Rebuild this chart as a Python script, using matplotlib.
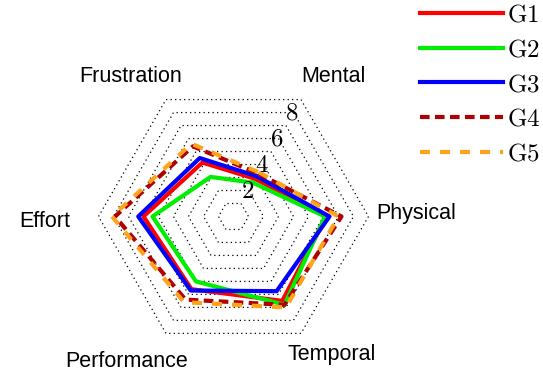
import numpy as np
import matplotlib.pyplot as plt

plt.rcParams["mathtext.fontset"] = "cm"

# NASA-TLX subscales, clockwise from the top-right spoke
categories = ["Mental", "Physical", "Temporal", "Performance", "Effort", "Frustration"]

g1 = [2.9, 6.2, 6.5, 5.6, 6.0, 4.15]
g2 = [2.6, 6.1, 6.8, 5.0, 5.4, 3.05]
g3 = [3.1, 6.4, 5.75, 5.7, 6.35, 4.5]
g4 = [3.3, 7.2, 6.8, 6.4, 7.9, 5.4]
g5 = [3.4, 7.0, 7.0, 6.6, 8.1, 5.6]

groups = ["G1", "G2", "G3", "G4", "G5"]
series = [g1, g2, g3, g4, g5]
colors = ["#ff0000", "#00ee00", "#0000ff", "#b00000", "#ffa31a"]
styles = ["-", "-", "-", (0, (2.3, 1.3)), (0, (2.4, 2.4))]

rings = [1, 2, 3, 4, 5, 6, 7, 8, 9]
ring_labels = [2, 4, 6, 8]

n = len(categories)
angles = np.arange(n) * 2 * np.pi / n
closed = np.append(angles, angles[0])

fig = plt.figure(figsize=(5.43, 3.71), dpi=100)
ax = fig.add_axes([0.1814, 0.0526, 0.4972, 0.7278], polar=True)
ax.set_theta_offset(np.pi / 3)
ax.set_theta_direction(-1)
ax.set_ylim(0, 9)
ax.axis("off")

# dotted hexagonal rings
for r in rings:
    ax.plot(closed, [r] * (n + 1), color="black", lw=0.9,
            ls=(0, (1, 2.6)), clip_on=False, zorder=1)

handles = []
for name, vals, c, s in zip(groups, series, colors, styles):
    h, = ax.plot(closed, vals + vals[:1], color=c, lw=3, ls=s,
                 clip_on=False, zorder=3, label=name)
    handles.append(h)

for v in ring_labels:
    ax.text(np.deg2rad(-1), v - 0.05, "$%d$" % v, fontsize=18, ha="center",
            va="center", zorder=5)

# spoke names around the outside
label_pos = {
    "Mental": (5.6, 11.47),
    "Physical": (59.2, 12.2),
    "Temporal": (114.8, 11.3),
    "Performance": (186.4, 12.05),
    "Effort": (238.6, 12.6),
    "Frustration": (293.6, 11.6),
}
for cat in categories:
    th, r = label_pos[cat]
    ax.text(np.deg2rad(th), r, cat, fontsize=15.5, family="Liberation Sans",
            ha="center", va="center")

fig.legend(handles, ["$\\mathrm{%s}$" % g for g in groups],
           loc="upper right", bbox_to_anchor=(1.013, 1.02), frameon=False,
           borderaxespad=0, fontsize=18, handlelength=3.3,
           handletextpad=0.15, labelspacing=0.43)

fig.savefig("out.png", dpi=100)
